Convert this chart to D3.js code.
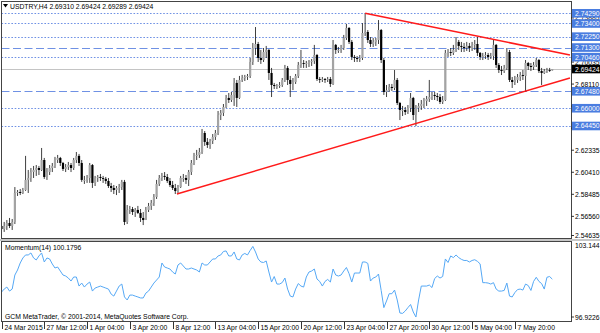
<!DOCTYPE html>
<html><head><meta charset="utf-8">
<script src="https://cdn.jsdelivr.net/npm/d3@7"></script>
<style>
body{margin:0;background:#fff}
svg{display:block}
text{font-family:"Liberation Sans",Arial,sans-serif;font-size:6.8px}
</style></head><body><div id="chart"></div>
<script>
// ---- data (USDTRY H4) ----
const firstOpen = 2.5572
const closes = [
 2.5545,2.5572,2.5598,2.5572,2.5607,2.5860,2.5869,2.5860,2.5886,2.5974,
 2.5991,2.6043,2.6061,2.6078,2.6061,2.6148,2.6000,2.6043,2.6078,2.6096,
 2.6148,2.6166,2.6122,2.6070,2.6087,2.6104,2.6078,2.6148,2.6184,2.6122,
 2.5974,2.5974,2.5991,2.6104,2.5948,2.5991,2.6000,2.5991,2.5983,2.5965,
 2.5921,2.5904,2.5886,2.5904,2.5912,2.5957,2.5607,2.5712,2.5720,2.5694,
 2.5712,2.5686,2.5642,2.5624,2.5712,2.5747,2.5773,2.5825,2.5939,2.5991,
 2.6009,2.6000,2.5965,2.5930,2.5904,2.5877,2.5912,2.5991,2.5991,2.5974,
 2.6043,2.6122,2.6184,2.6192,2.6218,2.6384,2.6306,2.6279,2.6314,2.6349,
 2.6384,2.6541,2.6559,2.6611,2.6690,2.6672,2.6716,2.6821,2.6690,2.6847,
 2.6864,2.6873,2.6882,2.7004,2.7126,2.7161,2.7039,2.7021,2.7091,2.7109,
 2.6908,2.6803,2.6794,2.6794,2.6803,2.6847,2.6952,2.6847,2.6812,2.6829,
 2.6882,2.6978,2.6995,2.6987,2.6995,2.7004,2.7013,2.7065,2.6855,2.6847,
 2.6855,2.6847,2.6855,2.6812,2.7153,2.7109,2.7109,2.7126,2.7214,2.7301,
 2.7179,2.7048,2.7039,2.7030,2.7039,2.7257,2.7266,2.7196,2.7161,2.7179,
 2.7196,2.7283,2.7021,2.6742,2.6759,2.6786,2.6777,2.6847,2.6646,2.6585,
 2.6585,2.6567,2.6602,2.6690,2.6541,2.6602,2.6620,2.6637,2.6663,2.6681,
 2.6698,2.6716,2.6707,2.6698,2.6655,2.6672,2.7083,2.7091,2.7083,2.7109,
 2.7179,2.7144,2.7135,2.7126,2.7144,2.7126,2.7153,2.7161,2.7083,2.7048,
 2.7056,2.7065,2.7048,2.7056,2.7153,2.6978,2.6934,2.6925,2.6952,2.7091,
 2.6847,2.6829,2.6847,2.6873,2.6890,2.6882,2.6995,2.6969,2.6960,2.6978,
 2.7021,2.6925,2.6908,2.6925,2.6934,2.6931,2.69424
]
const highs = [
 2.5589,2.5607,2.5624,2.5642,2.5633,2.5912,2.5886,2.5895,2.5904,2.6184,
 2.6061,2.6078,2.6096,2.6104,2.6096,2.6253,2.6166,2.6078,2.6104,2.6122,
 2.6175,2.6192,2.6175,2.6131,2.6113,2.6131,2.6122,2.6166,2.6218,2.6201,
 2.6148,2.6009,2.6017,2.6122,2.6113,2.6009,2.6017,2.6026,2.6009,2.6000,
 2.5991,2.5948,2.5930,2.5921,2.5939,2.5974,2.5974,2.5755,2.5747,2.5738,
 2.5729,2.5747,2.5720,2.5694,2.5738,2.5773,2.5799,2.5851,2.5974,2.6017,
 2.6035,2.6043,2.6026,2.5991,2.5965,2.5939,2.5930,2.6009,2.6026,2.6017,
 2.6061,2.6148,2.6210,2.6236,2.6253,2.6419,2.6401,2.6340,2.6332,2.6375,
 2.6410,2.6576,2.6585,2.6637,2.6716,2.6733,2.6742,2.6864,2.6847,2.6882,
 2.6891,2.6891,2.6899,2.7039,2.7170,2.7309,2.7179,2.7109,2.7126,2.7144,
 2.7117,2.6952,2.6821,2.6812,2.6829,2.6864,2.6978,2.6969,2.6882,2.6864,
 2.6899,2.7004,2.7109,2.7021,2.7013,2.7021,2.7030,2.7153,2.7074,2.6873,
 2.6873,2.6864,2.6873,2.6873,2.7196,2.7161,2.7135,2.7153,2.7240,2.7336,
 2.7309,2.7196,2.7065,2.7056,2.7065,2.7344,2.7429,2.7283,2.7222,2.7214,
 2.7214,2.7370,2.7292,2.7039,2.6803,2.6812,2.6812,2.6934,2.6864,2.6655,
 2.6620,2.6611,2.6628,2.6733,2.6699,2.6628,2.6646,2.6672,2.6690,2.6707,
 2.6847,2.6742,2.6742,2.6733,2.6725,2.6707,2.7109,2.7117,2.7126,2.7153,
 2.7222,2.7196,2.7179,2.7170,2.7179,2.7170,2.7179,2.7196,2.7222,2.7091,
 2.7083,2.7091,2.7083,2.7083,2.7196,2.7161,2.6995,2.6969,2.6978,2.7126,
 2.7109,2.6873,2.6882,2.6899,2.6917,2.6934,2.7021,2.7004,2.6995,2.7004,
 2.7039,2.7030,2.6952,2.6943,2.6952,2.6952,2.69424
]
const lows = [
 2.5502,2.5520,2.5537,2.5554,2.5537,2.5589,2.5834,2.5842,2.5851,2.5878,
 2.5860,2.5957,2.5991,2.6009,2.6017,2.6052,2.5983,2.5974,2.6017,2.6043,
 2.6078,2.6122,2.6096,2.6052,2.6043,2.6061,2.6043,2.6061,2.6122,2.6096,
 2.5957,2.5939,2.5948,2.5948,2.5904,2.5921,2.5957,2.5965,2.5948,2.5939,
 2.5904,2.5869,2.5851,2.5842,2.5860,2.5886,2.5580,2.5589,2.5677,2.5668,
 2.5651,2.5677,2.5607,2.5580,2.5624,2.5694,2.5712,2.5747,2.5808,2.5921,
 2.5965,2.5974,2.5948,2.5912,2.5886,2.5851,2.5851,2.5904,2.5957,2.5939,
 2.5921,2.6017,2.6104,2.6148,2.6166,2.6201,2.6271,2.6253,2.6245,2.6288,
 2.6323,2.6366,2.6497,2.6532,2.6602,2.6646,2.6655,2.6620,2.6611,2.6681,
 2.6829,2.6838,2.6847,2.6864,2.6978,2.7065,2.7004,2.6987,2.7004,2.7039,
 2.6847,2.6698,2.6768,2.6768,2.6777,2.6786,2.6829,2.6803,2.6698,2.6759,
 2.6812,2.6864,2.6952,2.6952,2.6952,2.6960,2.6969,2.6987,2.6838,2.6821,
 2.6829,2.6821,2.6829,2.6786,2.6803,2.7074,2.7083,2.7083,2.7109,2.7196,
 2.7161,2.7021,2.7004,2.7004,2.7004,2.7021,2.7231,2.7170,2.7135,2.7135,
 2.7144,2.7161,2.6995,2.6716,2.6698,2.6742,2.6751,2.6759,2.6628,2.6497,
 2.6532,2.6541,2.6550,2.6567,2.6497,2.6445,2.6567,2.6585,2.6602,2.6620,
 2.6655,2.6672,2.6672,2.6663,2.6637,2.6637,2.6663,2.7048,2.7056,2.7065,
 2.7091,2.7109,2.7091,2.7091,2.7100,2.7091,2.7100,2.7109,2.7056,2.7021,
 2.7021,2.7030,2.7021,2.7030,2.7021,2.6952,2.6908,2.6890,2.6908,2.6934,
 2.6829,2.6777,2.6803,2.6821,2.6838,2.6847,2.6742,2.6934,2.6925,2.6934,
 2.6960,2.6908,2.6803,2.6899,2.6908,2.6917,2.69289
]
const momentum = [
 99.15,99.39,99.55,99.23,99.39,100.51,100.91,101.47,101.87,102.11,
 102.11,102.27,101.87,101.71,102.03,102.27,101.55,101.87,101.79,101.39,
 101.07,101.15,100.83,100.51,100.43,100.27,100.03,100.35,100.35,99.63,
 99.87,99.55,99.79,99.95,99.23,99.47,99.55,99.63,99.55,99.47,
 99.39,98.99,98.83,99.23,99.63,99.79,98.76,98.52,98.91,98.91,
 98.83,98.76,98.68,98.68,99.07,99.23,99.55,99.87,100.11,100.35,
 101.47,101.15,101.07,100.99,100.75,100.59,101.31,101.47,101.23,100.99,
 100.99,101.07,100.99,100.91,100.75,101.47,101.31,101.31,101.55,101.79,
 101.79,102.03,102.11,102.39,102.43,102.03,102.03,102.35,101.79,101.71,
 102.11,102.23,102.11,102.47,102.79,102.35,101.79,101.55,101.51,101.63,
 100.75,99.95,100.39,99.79,99.79,99.91,100.27,99.39,98.83,98.76,
 99.39,99.83,99.63,99.55,100.35,100.75,100.83,100.99,100.19,100.00,
 99.63,100.00,100.16,99.95,100.99,100.51,100.43,100.51,100.83,101.11,
 100.62,99.95,100.67,100.67,100.67,101.55,101.55,101.44,100.03,100.27,
 100.35,100.59,99.28,97.91,98.44,99.02,99.02,99.31,98.52,97.48,
 97.45,97.64,97.91,98.16,97.56,97.16,98.52,99.63,99.63,99.63,
 99.71,99.51,100.23,100.43,100.27,100.39,101.79,101.51,102.03,101.90,
 102.11,101.90,101.76,101.67,101.67,101.55,101.67,101.73,101.60,101.40,
 99.90,99.90,99.87,99.79,99.90,99.39,99.23,99.23,99.28,99.87,
 98.83,98.76,99.11,99.35,99.39,99.31,99.79,99.67,99.28,100.00,
 100.33,100.00,99.83,99.39,100.33,100.39,100.1796
]

// axis labels
const priceTicks = [2.54635,2.56560,2.58485,2.60410,2.62335,2.64260,2.66185,2.68110,2.70035,2.71960,2.73885]
const timeLabels = ['24 Mar 2015','27 Mar 12:00','1 Apr 04:00','3 Apr 20:00','8 Apr 12:00','13 Apr 04:00',
  '15 Apr 20:00','20 Apr 12:00','23 Apr 04:00','27 Apr 20:00','30 Apr 12:00','5 May 04:00','7 May 20:00']
const timeIndex = [0,16,32,48,64,80,96,112,128,144,160,176,192]

// horizontal levels (price, style)
const levelPrices = [2.7429,2.7340,2.7225,2.7130,2.7046,2.6748,2.6600,2.6445]
const levelStyles = ['dot','dot','dot','dash','dot','dash','dot','dot']

// trend lines: [bar1, price1, bar2, price2]
const trendLines = [[65.6,2.5851,212.6,2.6864],[136,2.7429,212.6,2.7065]]

const bid = 2.69424
const title = 'USDTRY,H4  2.69310 2.69424 2.69289 2.69424'
const momTitle = 'Momentum(14) 100.1796'
const momMax = 103.144, momMin = 96.9226

// ---- layout ----
const W = 600, H = 333
const main = {left: 1.5, right: 571.5, top: 1.5, bottom: 238.5}
const sub = {top: 241.5, bottom: 321.5}
const blue = '#4a7de0', blueLine = '#6f91e4'

const svg = d3.select('#chart').append('svg').attr('width', W).attr('height', H)

const x = d3.scaleLinear().domain([0, 206]).range([1.5, 552.3])
const y = d3.scaleLinear().domain([2.54635, 2.7429]).range([238.4, 13.3])
const ym = d3.scaleLinear().domain([momMin, momMax]).range([320, 242])

svg.append('clipPath').attr('id', 'clipMain').append('rect')
    .attr('x', main.left).attr('y', main.top)
    .attr('width', main.right - main.left).attr('height', main.bottom - main.top)
svg.append('clipPath').attr('id', 'clipSub').append('rect')
    .attr('x', main.left).attr('y', sub.top)
    .attr('width', main.right - main.left).attr('height', sub.bottom - sub.top)

const gMain = svg.append('g').attr('clip-path', 'url(#clipMain)')

// bid line
gMain.append('line')
    .attr('x1', main.left).attr('x2', main.right)
    .attr('y1', Math.round(y(bid)) + 0.5).attr('y2', Math.round(y(bid)) + 0.5)
    .attr('stroke', '#c4c4c4').attr('stroke-width', 1)

// horizontal levels
levelPrices.forEach((p, k) => {
    gMain.append('line')
        .attr('x1', main.left).attr('x2', main.right)
        .attr('y1', Math.round(y(p)) + 0.5).attr('y2', Math.round(y(p)) + 0.5)
        .attr('stroke', blueLine).attr('stroke-width', 1)
        .attr('stroke-dasharray', levelStyles[k] == 'dash' ? '8,3.5' : '1.6,1.7')
})

// candles
const bars = closes.map((c, i) => {
    const o = i == 0 ? firstOpen : closes[i - 1]
    return {i: i, o: o, c: c, h: Math.max(highs[i], o, c), l: Math.min(lows[i], o, c)}
})
gMain.selectAll('line.wick').data(bars).join('line')
    .attr('class', 'wick')
    .attr('x1', d => x(d.i)).attr('x2', d => x(d.i))
    .attr('y1', d => y(d.h)).attr('y2', d => y(d.l))
    .attr('stroke', '#2a2a2a').attr('stroke-width', 0.9)
gMain.selectAll('rect.body').data(bars).join('rect')
    .attr('class', 'body')
    .attr('x', d => x(d.i) - 1.1)
    .attr('width', 2.2)
    .attr('y', d => y(Math.max(d.o, d.c)))
    .attr('height', d => Math.max(0.9, Math.abs(y(d.o) - y(d.c))))
    .attr('fill', d => d.c >= d.o ? '#a3a3a3' : '#000')

// trend lines
trendLines.forEach(t => {
    gMain.append('line')
        .attr('x1', x(t[0])).attr('y1', y(t[1]))
        .attr('x2', x(t[2])).attr('y2', y(t[3]))
        .attr('stroke', '#ff1a1a').attr('stroke-width', 1.5)
})

// momentum
svg.append('g').attr('clip-path', 'url(#clipSub)')
    .append('path')
    .datum(momentum)
    .attr('d', d3.line().x((d, i) => x(i)).y(d => ym(d)))
    .attr('fill', 'none').attr('stroke', '#55a8f5').attr('stroke-width', 1)

// frames
svg.append('rect').attr('x', 0).attr('y', 239).attr('width', W).attr('height', 2).attr('fill', '#c6c6c6')
svg.append('rect').attr('x', main.left).attr('y', main.top)
    .attr('width', main.right - main.left).attr('height', main.bottom - main.top)
    .attr('fill', 'none').attr('stroke', '#444')
svg.append('rect').attr('x', main.left).attr('y', sub.top)
    .attr('width', main.right - main.left).attr('height', sub.bottom - sub.top)
    .attr('fill', 'none').attr('stroke', '#444')

// title
svg.append('path').attr('d', 'M3,4 L8,4 L5.5,7.5 Z').attr('fill', '#000')
svg.append('text').attr('x', 10).attr('y', 8.5).attr('fill', '#000').text(title)
svg.append('text').attr('x', 5).attr('y', 250).attr('fill', '#000').text(momTitle)
svg.append('text').attr('x', 5).attr('y', 318.5).attr('fill', '#000')
    .text('GCM MetaTrader, \u00a9 2001-2014, MetaQuotes Software Corp.')

// price axis: tick labels that a level label fully covers are not drawn
const axisG = svg.append('g')
const boxYs = levelPrices.concat([bid]).map(p => y(p))
priceTicks.forEach(t => {
    const yy = Math.min(y(t), 235.5)
    axisG.append('line').attr('x1', main.right).attr('x2', main.right + 2.5)
        .attr('y1', yy).attr('y2', yy).attr('stroke', '#000').attr('stroke-width', 0.8)
    if (boxYs.some(b => Math.abs(b - yy) < 4)) return
    axisG.append('text').attr('x', 575).attr('y', yy).attr('dominant-baseline', 'central')
        .attr('fill', '#000').text(d3.format('.5f')(t))
})
levelPrices.forEach(p => {
    const yy = y(p)
    axisG.append('rect').attr('x', 572).attr('y', yy - 4.3).attr('width', 28).attr('height', 8.6).attr('fill', blue)
    axisG.append('text').attr('x', 575).attr('y', yy).attr('dominant-baseline', 'central')
        .attr('fill', '#fff').text(d3.format('.5f')(p))
})
axisG.append('rect').attr('x', 572).attr('y', y(bid) - 4.3).attr('width', 28).attr('height', 8.6).attr('fill', '#000')
axisG.append('text').attr('x', 575).attr('y', y(bid)).attr('dominant-baseline', 'central')
    .attr('fill', '#fff').text(d3.format('.5f')(bid))

// momentum axis
axisG.append('text').attr('x', 575).attr('y', 245.5).attr('dominant-baseline', 'central').text(String(momMax))
axisG.append('line').attr('x1', main.right).attr('x2', main.right + 2.5)
    .attr('y1', 317).attr('y2', 317).attr('stroke', '#000').attr('stroke-width', 0.8)
axisG.append('text').attr('x', 575).attr('y', 317).attr('dominant-baseline', 'central').text(String(momMin))

// time axis
timeLabels.forEach((lab, k) => {
    const xx = Math.round(x(timeIndex[k])) + 0.5
    axisG.append('line').attr('x1', xx).attr('x2', xx).attr('y1', 322).attr('y2', 329)
        .attr('stroke', '#000').attr('stroke-width', 0.8)
    axisG.append('text').attr('x', xx + 2).attr('y', 327.5).attr('dominant-baseline', 'central')
        .attr('fill', '#000').text(lab)
})
</script></body></html>
